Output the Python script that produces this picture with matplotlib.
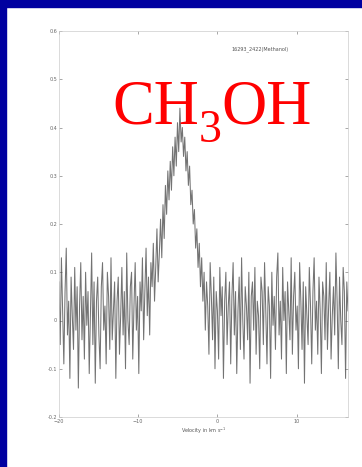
import matplotlib
matplotlib.use('Agg')
import matplotlib.pyplot as plt
import matplotlib.ticker as mticker
from matplotlib.patches import Rectangle
import numpy as np

# spectrum: channel intensities (K), -20 .. 16.5 km/s
v_start, v_stop = -20.0, 16.5
intensity = [
    0.08, -0.05, 0.13, 0.02, -0.09, 0.06, 0.15, -0.03, 0.04, -0.12, 0.09, 0.01,
    -0.06, 0.11, -0.02, 0.07, -0.14, 0.03, 0.12, -0.04, 0.05, -0.08, 0.10, -0.01,
    0.06, -0.11, 0.02, 0.14, -0.05, 0.08, -0.13, 0.04, 0.09, -0.03, -0.10, 0.07,
    0.12, -0.02, 0.03, -0.09, 0.10, 0.05, -0.06, 0.13, -0.04, 0.02, 0.08, -0.12,
    0.04, 0.09, -0.07, 0.01, 0.11, -0.03, 0.06, -0.10, 0.14, 0.00, -0.05, 0.07,
    0.10, -0.08, 0.03, 0.12, -0.02, 0.05, -0.11, 0.08, 0.02, 0.13, -0.04, 0.06,
    0.15, 0.01, 0.09, -0.03, 0.12, 0.07, 0.16, 0.04, 0.11, 0.19, 0.08, 0.14,
    0.21, 0.13, 0.24, 0.17, 0.28, 0.22, 0.31, 0.25, 0.33, 0.27, 0.36, 0.30,
    0.38, 0.32, 0.41, 0.35, 0.44, 0.37, 0.40, 0.34, 0.38, 0.31, 0.35, 0.28,
    0.32, 0.24, 0.27, 0.20, 0.23, 0.15, 0.19, 0.11, 0.16, 0.07, 0.13, 0.04,
    0.10, -0.02, 0.08, 0.03, -0.07, 0.12, 0.05, -0.04, 0.09, -0.10, 0.06, 0.02,
    -0.08, 0.11, 0.01, 0.07, -0.12, 0.04, 0.10, -0.05, 0.03, 0.08, -0.09, 0.05,
    0.12, -0.03, 0.06, -0.11, 0.02, 0.09, -0.06, 0.13, 0.00, -0.08, 0.07, 0.03,
    -0.04, 0.10, -0.13, 0.05, 0.08, -0.02, 0.11, -0.07, 0.04, 0.01, -0.10, 0.09,
    0.06, -0.05, 0.12, 0.02, -0.09, 0.07, 0.03, -0.12, 0.10, -0.01, 0.05, -0.06,
    0.09, 0.14, -0.03, 0.04, -0.08, 0.11, 0.00, 0.06, -0.11, 0.08, 0.02, -0.04,
    0.13, -0.07, 0.05, 0.10, -0.02, 0.03, -0.10, 0.12, 0.04, -0.06, 0.08, -0.13,
    0.07, 0.01, -0.05, 0.11, 0.03, -0.09, 0.06, 0.13, -0.02, 0.04, -0.07, 0.09,
    0.02, -0.11, 0.08, 0.05, -0.04, 0.12, -0.06, 0.03, 0.10, -0.08, 0.01, 0.07,
    -0.03, 0.14, 0.04, -0.10, 0.09, 0.00, -0.05, 0.11, 0.06, -0.12, 0.08, 0.02,
]
velocity = np.linspace(v_start, v_stop, len(intensity))

x_ticks = [-20, -10, 0, 10]
y_ticks = [-0.2, -0.1, 0, 0.1, 0.2, 0.3, 0.4, 0.5, 0.6]

source_label = '16293_2422(Methanol)'
# molecule name in pieces: (text, is_subscript)
molecule_parts = [('CH', False), ('3', True), ('OH', False)]

W, H = 362, 467
fig = plt.figure(figsize=(W / 100, H / 100), dpi=100)
fig.patch.set_facecolor('white')

# slide frame (blue strip top and left)
fig.patches.append(Rectangle((0, 1 - 7 / H), 1, 7 / H, transform=fig.transFigure,
                             color='#0000a0', zorder=0))
fig.patches.append(Rectangle((0, 0), 6 / W, 1, transform=fig.transFigure,
                             color='#0000a0', zorder=0))

ax = fig.add_axes([59 / W, 1 - 417 / H, 289 / W, 386 / H])
ax.plot(velocity, intensity, color='#444444', lw=0.75, alpha=0.75)

ax.set_xlim(v_start, v_stop)
ax.set_ylim(-0.2, 0.6)
ax.xaxis.set_major_locator(mticker.FixedLocator(x_ticks))
ax.yaxis.set_major_locator(mticker.FixedLocator(y_ticks))
ax.yaxis.set_major_formatter(mticker.FuncFormatter(lambda v, p: '%g' % round(v, 2)))
ax.tick_params(labelsize=3.5, colors='#666666', length=2, width=0.4, pad=1.5)
ax.tick_params(top=True, right=True, direction='in')
for s in ax.spines.values():
    s.set_color('#cccccc')
    s.set_linewidth(0.5)

ax.set_xlabel('Velocity in km s$^{-1}$', fontsize=3.5, color='#555555', labelpad=1)
ax.text(0.695, 0.953, source_label, transform=ax.transAxes, fontsize=3.5,
        color='#555555', ha='center', va='center')

# big red formula, built piece by piece so the subscript sits low like on the slide
renderer = fig.canvas.get_renderer()
x_px, base_px = 112, 124
for txt, sub in molecule_parts:
    size = 33 if sub else 45
    y_px = base_px + 18 if sub else base_px
    t = fig.text(x_px / W, 1 - y_px / H, txt, color='red', fontsize=size,
                 family='Liberation Serif', ha='left', va='baseline')
    x_px += t.get_window_extent(renderer).width

fig.savefig('out.png', dpi=100)
